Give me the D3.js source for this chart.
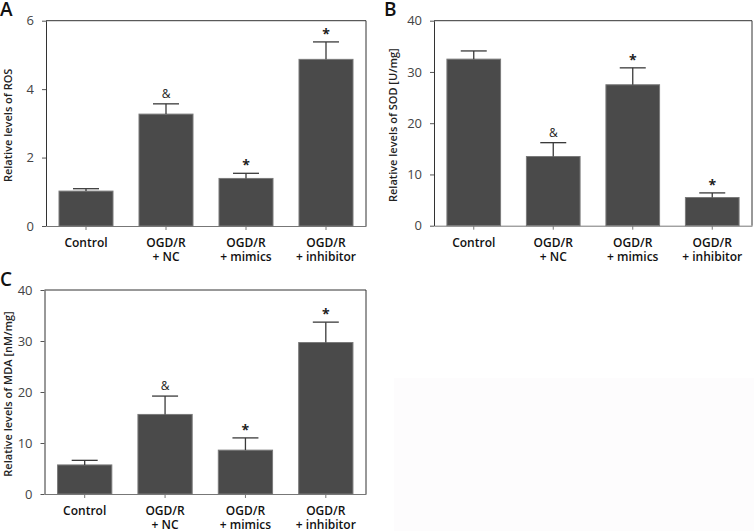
<!DOCTYPE html>
<html>
<head>
<meta charset="UTF-8">
<title>ROS / SOD / MDA</title>
<script src="https://cdn.jsdelivr.net/npm/d3@7/dist/d3.min.js"></script>
<style>
  body { margin: 0; background: #fff; }
  svg { display: block; font-family: "Open Sans", sans-serif; }
</style>
</head>
<body>
<script>
// groups on the x axis (split at " + " for the two-line labels)
var groups = ["Control", "OGD/R + NC", "OGD/R + mimics", "OGD/R + inhibitor"];

// A - ROS
var rosMean = [1.02, 3.27, 1.39, 4.87];
var rosSD   = [0.07, 0.30, 0.15, 0.51];
var rosMarks = ["", "&", "*", "*"];
var rosTicks = [0, 2, 4, 6];

// B - SOD
var sodMean = [32.5, 13.5, 27.5, 5.5];
var sodSD   = [1.6, 2.7, 3.3, 0.9];
var sodMarks = ["", "&", "*", "*"];
var sodTicks = [0, 10, 20, 30, 40];

// C - MDA
var mdaMean = [5.7, 15.6, 8.6, 29.7];
var mdaSD   = [0.9, 3.6, 2.4, 4.0];
var mdaMarks = ["", "&", "*", "*"];
var mdaTicks = [0, 10, 20, 30, 40];

var W = 754, H = 531;

var svg = d3.select("body").append("svg")
  .attr("width", W)
  .attr("height", H);

// very faint box bottom right
svg.append("rect")
  .attr("x", 394).attr("y", 378)
  .attr("width", 360).attr("height", 153)
  .attr("fill", "#fdfcfd");

var panels = [
  {letter: "A", lx: 0, ly: 16, ylab: "Relative levels of ROS", labX: 12,
   mean: rosMean, sd: rosSD, marks: rosMarks, ticks: rosTicks,
   left: 46, right: 366, top: 20.7, bottom: 226},
  {letter: "B", lx: 384, ly: 16, ylab: "Relative levels of SOD [U/mg]", labX: 397,
   mean: sodMean, sd: sodSD, marks: sodMarks, ticks: sodTicks,
   left: 434, right: 752, top: 20.7, bottom: 225.7},
  {letter: "C", lx: 0, ly: 286, ylab: "Relative levels of MDA [nM/mg]", labX: 12,
   mean: mdaMean, sd: mdaSD, marks: mdaMarks, ticks: mdaTicks,
   left: 44.5, right: 366, top: 290, bottom: 494}
];

panels.forEach(function(p) {
  var g = svg.append("g");

  var x = d3.scaleBand()
    .domain(groups)
    .range([p.left, p.right])
    .paddingInner(0.325)
    .paddingOuter(0.1625);

  var y = d3.scaleLinear()
    .domain([0, d3.max(p.ticks)])
    .range([p.bottom, p.top]);

  // frame top + right
  g.append("path")
    .attr("d", "M" + p.left + "," + p.top + "H" + p.right + "V" + p.bottom)
    .attr("fill", "none")
    .attr("stroke", "#333")
    .attr("stroke-width", 1);

  // bars
  g.selectAll("rect.bar")
    .data(p.mean)
    .enter().append("rect")
    .attr("class", "bar")
    .attr("x", function(d, i) { return x(groups[i]); })
    .attr("y", function(d) { return y(d); })
    .attr("width", x.bandwidth())
    .attr("height", function(d) { return y(0) - y(d); })
    .attr("fill", "#4a4a4a")
    .attr("stroke", "#7a7a7a")
    .attr("stroke-width", 1);

  // error bars (upper half only)
  var cap = 13;
  p.mean.forEach(function(m, i) {
    var cx = x(groups[i]) + x.bandwidth() / 2;
    var top = y(m + p.sd[i]);
    g.append("line")
      .attr("x1", cx).attr("x2", cx)
      .attr("y1", y(m)).attr("y2", top)
      .attr("stroke", "#3a3a3a").attr("stroke-width", 1.3);
    g.append("line")
      .attr("x1", cx - cap).attr("x2", cx + cap)
      .attr("y1", top).attr("y2", top)
      .attr("stroke", "#3a3a3a").attr("stroke-width", 1.3);
    if (p.marks[i]) {
      g.append("text")
        .attr("x", cx)
        .attr("y", p.marks[i] == "*" ? top - 3 : top - 6)
        .attr("text-anchor", "middle")
        .attr("font-size", p.marks[i] == "*" ? 14 : 12)
        .attr("font-weight", p.marks[i] == "*" ? 700 : 400)
        .attr("fill", "#222")
        .text(p.marks[i]);
    }
  });

  // y axis
  var yAxis = d3.axisLeft(y)
    .tickValues(p.ticks)
    .tickFormat(d3.format("d"))
    .tickSize(4)
    .tickSizeOuter(0)
    .tickPadding(8);
  var ya = g.append("g")
    .attr("transform", "translate(" + p.left + ",0)")
    .call(yAxis);
  ya.select(".domain").attr("stroke", "#333");
  ya.selectAll(".tick line").attr("stroke", "#555");
  ya.selectAll(".tick text")
    .attr("font-size", 13)
    .attr("fill", "#444")
    .attr("font-family", "Open Sans, sans-serif");

  // x axis
  var xAxis = d3.axisBottom(x)
    .tickSize(4)
    .tickSizeOuter(0);
  var xa = g.append("g")
    .attr("transform", "translate(0," + p.bottom + ")")
    .call(xAxis);
  xa.select(".domain").attr("stroke", "#777");
  xa.selectAll(".tick line").attr("stroke", "#777");
  xa.selectAll(".tick text").each(function(d) {
    var t = d3.select(this).text(null)
      .attr("y", 0).attr("dy", null)
      .attr("font-size", 12)
      .attr("font-weight", 600)
      .attr("fill", "#111")
      .attr("font-family", "Open Sans, sans-serif");
    d.split(" + ").forEach(function(s, j) {
      t.append("tspan")
        .attr("x", 0)
        .attr("y", 21 + j * 14)
        .text(j ? "+ " + s : s);
    });
  });

  // y label
  g.append("text")
    .attr("transform", "translate(" + p.labX + "," + ((p.top + p.bottom) / 2 + 2) + ") rotate(-90)")
    .attr("text-anchor", "middle")
    .attr("font-size", 11)
    .attr("font-weight", 600)
    .attr("fill", "#222")
    .text(p.ylab);

  // panel letter
  g.append("text")
    .attr("x", p.lx).attr("y", p.ly)
    .attr("font-size", 19)
    .attr("font-weight", 600)
    .attr("fill", "#111")
    .text(p.letter);
});
</script>
</body>
</html>
